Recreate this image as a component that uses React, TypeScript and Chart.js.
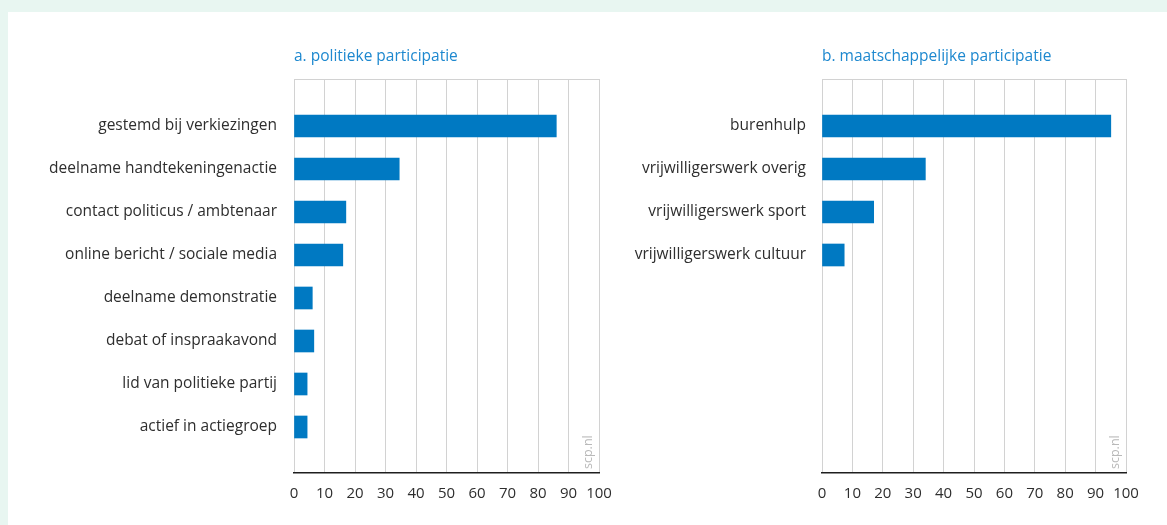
import React, { useEffect, useRef } from "react";
import { Chart, registerables } from "chart.js";

Chart.register(...registerables);

const leftTitle = "a. politieke participatie";
const leftCategories = [
  "gestemd bij verkiezingen",
  "deelname handtekeningenactie",
  "contact politicus / ambtenaar",
  "online bericht / sociale media",
  "deelname demonstratie",
  "debat of inspraakavond",
  "lid van politieke partij",
  "actief in actiegroep",
];
const leftValues = [86, 34.5, 17, 16, 6, 6.5, 4.3, 4.3];

const rightTitle = "b. maatschappelijke participatie";
const rightCategories = [
  "burenhulp",
  "vrijwilligerswerk overig",
  "vrijwilligerswerk sport",
  "vrijwilligerswerk cultuur",
];
const rightValues = [95, 34, 17, 7.3];

const xTickValues = [0, 10, 20, 30, 40, 50, 60, 70, 80, 90, 100];
const sourceLabel = "scp.nl";

const FONT = "'Open Sans', 'Noto Sans', sans-serif";
const BLUE = "#0079c2";
const TITLE_BLUE = "#1d88cf";
const GRID = "#d2d2d2";
const TEXT = "#2e2e2e";

type PanelProps = {
  title: string;
  categories: string[];
  values: number[];
  left: number;
  width: number;
  axisWidth: number;
  tickPad: number;
  padRight: number;
};

function Panel({ title, categories, values, left, width, axisWidth, tickPad, padRight }: PanelProps) {
  const ref = useRef<HTMLCanvasElement | null>(null);
  const height = 513;

  useEffect(() => {
    if (!ref.current) return;
    const decor = {
      id: "decor",
      afterDraw(chart: any) {
        const { ctx, chartArea } = chart;
        ctx.save();
        ctx.strokeStyle = GRID;
        ctx.lineWidth = 1;
        ctx.beginPath();
        ctx.moveTo(chartArea.left, chartArea.top + 0.5);
        ctx.lineTo(chartArea.right, chartArea.top + 0.5);
        ctx.stroke();
        ctx.fillStyle = TITLE_BLUE;
        ctx.font = `15.5px ${FONT}`;
        ctx.textAlign = "left";
        ctx.textBaseline = "middle";
        ctx.fillText(title, chartArea.left, chartArea.top - 22);
        ctx.translate(chartArea.right - 11, chartArea.bottom - 4);
        ctx.rotate(-Math.PI / 2);
        ctx.fillStyle = "#b9b9b9";
        ctx.font = `12.5px ${FONT}`;
        ctx.textAlign = "left";
        ctx.textBaseline = "middle";
        ctx.fillText(sourceLabel, 0, 0);
        ctx.restore();
      },
    };

    const chart = new Chart(ref.current, {
      type: "bar",
      data: {
        datasets: [
          {
            data: values.map((v, i) => ({ x: v, y: i })),
            backgroundColor: BLUE,
            borderWidth: 0,
            barThickness: 22,
          },
        ],
      },
      options: {
        indexAxis: "y",
        animation: false,
        responsive: false,
        maintainAspectRatio: false,
        layout: { padding: { top: 67, right: padRight, bottom: 12, left: 0 } },
        plugins: {
          legend: { display: false },
          tooltip: { enabled: false },
          title: { display: false },
        },
        scales: {
          x: {
            type: "linear",
            position: "bottom",
            min: 0,
            max: 100,
            offset: false,
            afterBuildTicks: (s: any) => {
              s.ticks = xTickValues.map((v) => ({ value: v }));
            },
            afterFit: (s: any) => {
              s.height = 40;
            },
            ticks: {
              font: { family: FONT, size: 15 },
              color: TEXT,
              padding: 12,
              maxRotation: 0,
              autoSkip: false,
            },
            grid: { color: GRID, lineWidth: 1, drawTicks: false, offset: false },
            border: { display: true, color: "#1e1e1e", width: 1.5 },
          },
          y: {
            type: "linear",
            reverse: true,
            offset: false,
            bounds: "data",
            min: -1.093,
            max: 8.07,
            afterBuildTicks: (s: any) => {
              s.ticks = categories.map((_, i) => ({ value: i }));
            },
            afterFit: (s: any) => {
              s.width = axisWidth;
            },
            ticks: {
              callback: (v: any) => categories[v as number] ?? "",
              font: { family: FONT, size: 15.5 },
              color: TEXT,
              padding: tickPad,
              autoSkip: false,
            },
            grid: { display: false, drawTicks: false, offset: false },
            border: { display: false },
          },
        },
      },
      plugins: [decor],
    } as any);
    return () => chart.destroy();
  }, []);

  return (
    <canvas
      ref={ref}
      width={width}
      height={height}
      style={{ position: "absolute", left, top: 12, width, height }}
    />
  );
}

export default function App() {
  return (
    <div style={{ position: "fixed", left: 0, top: 0, width: 1167, height: 525, background: "#e8f6f1", overflow: "hidden" }}>
      <div style={{ position: "absolute", left: 8, top: 12, right: 0, bottom: 0, background: "#ffffff" }} />
      <Panel
        title={leftTitle}
        categories={leftCategories}
        values={leftValues}
        left={8}
        width={617}
        axisWidth={286}
        tickPad={17}
        padRight={26}
      />
      <Panel
        title={rightTitle}
        categories={rightCategories}
        values={rightValues}
        left={625}
        width={542}
        axisWidth={197}
        tickPad={16}
        padRight={41}
      />
    </div>
  );
}
